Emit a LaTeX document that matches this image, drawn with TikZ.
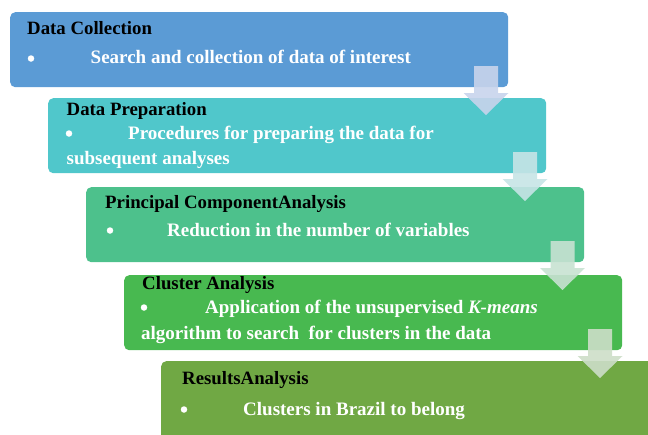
\documentclass[tikz,border=0pt]{standalone}
\usepackage{fontspec}
\setmainfont{Liberation Serif}
\definecolor{stageA}{RGB}{91,155,213}
\definecolor{stageB}{RGB}{80,199,203}
\definecolor{stageC}{RGB}{77,193,140}
\definecolor{stageD}{RGB}{72,185,80}
\definecolor{stageE}{RGB}{112,168,68}
\definecolor{flowA}{RGB}{200,212,236}
\definecolor{flowB}{RGB}{198,228,230}
\definecolor{flowC}{RGB}{200,226,210}
\definecolor{flowD}{RGB}{205,222,200}
\begin{document}
\begin{tikzpicture}[x=1pt,y=-1pt,
  stage/.style={rounded corners=5pt, inner sep=0pt, anchor=north west,
    minimum width=498pt, minimum height=75pt},
  head/.style={font=\fontsize{18.8}{22}\selectfont\bfseries, text=black,
    anchor=base west, inner sep=0pt},
  item/.style={font=\fontsize{19}{22}\selectfont\bfseries, text=white,
    anchor=base west, inner sep=0pt},
  dot/.style={circle, fill=white, minimum size=6.5pt, inner sep=0pt},
  flowarrow/.pic={
    \path[pic actions] (-12,0) -- (12,0) -- (12,27) -- (22.5,27) -- (0,49)
      -- (-22.5,27) -- (-12,27) -- cycle;
  },
  flow/.style={fill opacity=0.9, draw=none}
]
\useasboundingbox (0,0) rectangle (648,434);
\clip (0,0) rectangle (648,434);

% process stages
\node[stage, fill=stageA] (s1) at (10,12) {};
\node[stage, fill=stageB] (s2) at (48,98) {};
\node[stage, fill=stageC] (s3) at (86,187) {};
\node[stage, fill=stageD] (s4) at (124,275) {};
\node[stage, fill=stageE, minimum width=520pt, minimum height=90pt] (s5) at (161,361) {};

% stage 1
\node[head] (t1) at (27,34) {Data Collection};
\node[dot] (d1) at (31,58.5) {};
\node[item] (p1) at (90.5,63) {Search and collection of data of interest};

% stage 2
\node[head] (t2) at (66.5,115) {Data Preparation};
\node[dot] (d2) at (69,133.5) {};
\node[item] (p2) at (128,139) {Procedures for preparing the data for};
\node[item] (q2) at (66.5,164) {subsequent analyses};

% stage 3
\node[head] (t3) at (105,208) {Principal ComponentAnalysis};
\node[dot] (d3) at (110,230.5) {};
\node[item] (p3) at (167,236) {Reduction in the number of variables};

% stage 4
\node[head] (t4) at (142,289) {Cluster Analysis};
\node[dot] (d4) at (144,307.5) {};
\node[item] (p4) at (205,313) {Application of the unsupervised \textit{K-means}};
\node[item] (q4) at (141,339) {algorithm to search~ for clusters in the data};

% stage 5
\node[head] (t5) at (182,384) {ResultsAnalysis};
\node[dot] (d5) at (184,409.5) {};
\node[item] (p5) at (243,415) {Clusters in Brazil to belong};

% block arrows between stages
\pic[flow, fill=flowA] (f1) at (486,66) {flowarrow};
\pic[flow, fill=flowB] (f2) at (525,152) {flowarrow};
\pic[flow, fill=flowC] (f3) at (562.5,241) {flowarrow};
\pic[flow, fill=flowD] (f4) at (600,329) {flowarrow};
\end{tikzpicture}
\end{document}
